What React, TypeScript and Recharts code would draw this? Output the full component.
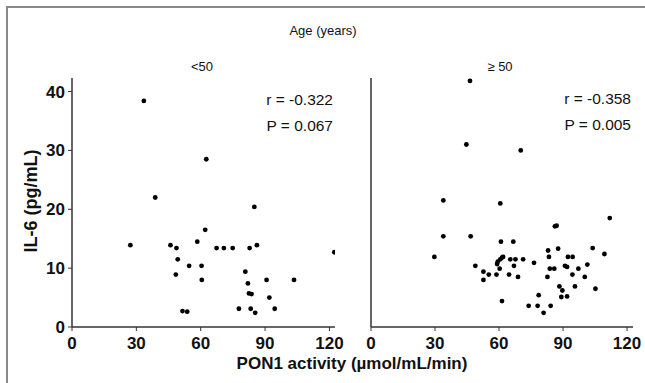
import React from 'react';
import { ScatterChart, Scatter, XAxis, YAxis } from 'recharts';

// PON1 activity (x) and IL-6 (y), age < 50
const youngPon1 = [33.5, 62.6, 38.8, 85.0, 62.1, 27.2, 45.9, 48.7, 58.4, 67.4, 70.8, 74.9, 82.8, 86.2, 122.3, 49.3, 54.6, 60.4, 48.4, 60.5, 80.8, 82.0, 90.7, 103.5, 82.5, 83.7, 92.0, 51.5, 53.7, 77.8, 83.3, 85.4, 94.5];
const youngIl6 = [38.4, 28.5, 22.0, 20.4, 16.5, 13.9, 13.9, 13.4, 14.5, 13.4, 13.4, 13.4, 13.4, 13.9, 12.7, 11.5, 10.4, 10.4, 8.9, 8.0, 9.4, 7.4, 8.0, 8.0, 5.7, 5.6, 5.0, 2.7, 2.6, 3.1, 3.1, 2.4, 3.1];

// age >= 50
const olderPon1 = [46.4, 44.7, 70.2, 33.9, 60.6, 111.9, 87.0, 86.2, 33.9, 46.7, 60.9, 66.7, 87.7, 103.9, 83.0, 29.7, 109.4, 61.4, 61.9, 65.3, 67.7, 71.3, 83.4, 92.3, 94.5, 59.4, 60.6, 59.1, 76.4, 48.9, 67.0, 90.9, 91.9, 101.4, 60.3, 83.8, 85.9, 97.2, 52.7, 55.2, 58.8, 64.7, 94.4, 68.9, 82.7, 100.2, 52.7, 88.3, 95.6, 89.7, 105.2, 89.2, 91.9, 61.4, 78.6, 73.9, 78.1, 84.2, 80.9];
const olderIl6 = [41.8, 31.0, 30.0, 21.5, 21.0, 18.5, 17.2, 17.1, 15.4, 15.4, 14.5, 14.5, 13.3, 13.4, 13.0, 11.9, 12.4, 11.8, 11.9, 11.5, 11.5, 11.5, 11.9, 11.9, 11.9, 11.1, 11.5, 10.7, 10.9, 10.4, 10.4, 10.4, 10.2, 10.6, 9.9, 9.9, 9.9, 9.9, 9.4, 8.9, 8.9, 8.9, 8.9, 8.5, 8.5, 8.5, 8.0, 6.9, 6.9, 6.2, 6.5, 5.1, 5.2, 4.4, 5.4, 3.6, 3.6, 3.6, 2.4];

const xTicks = [0, 30, 60, 90, 120];
const yTicks = [0, 10, 20, 30, 40];

const groupLabels = ['<50', '\u2265 50'];
const rValues = ['r = -0.322', 'r = -0.358'];
const pValues = ['P = 0.067', 'P = 0.005'];

const toPoints = (xs: number[], ys: number[]) => xs.map((x, i) => ({ x, y: ys[i] }));
const youngData = toPoints(youngPon1, youngIl6);
const olderData = toPoints(olderPon1, olderIl6);

const FONT = '"Liberation Sans", Arial, sans-serif';
const AXIS = '#333';

const XTick = (props: any) => (
  <text x={props.x} y={props.y + 12} textAnchor="middle" fontSize={17} fontWeight="bold" fontFamily={FONT} fill="#111">
    {props.payload.value}
  </text>
);
const YTick = (props: any) => (
  <text x={props.x} y={props.y + 6} textAnchor="end" fontSize={17} fontWeight="bold" fontFamily={FONT} fill="#111">
    {props.payload.value}
  </text>
);

const Dot = (props: any) => <circle cx={props.cx} cy={props.cy} r={2.4} fill="#000" />;

export default function App() {
  return (
    <div style={{ position: 'absolute', left: 0, top: 0, width: 645, height: 383, background: '#fff', overflow: 'hidden' }}>
      <div style={{ position: 'absolute', left: 6, top: 6, width: 700, height: 400, borderLeft: '2px solid #8a8a8a', borderTop: '2px solid #8a8a8a' }} />
      <div style={{ position: 'absolute', left: 0, top: 0 }}>
        <ScatterChart width={345} height={383} margin={{ top: 78, right: 10, bottom: 26, left: 0 }}>
          <XAxis type="number" dataKey="x" domain={[0, 122.6]} ticks={xTicks} allowDataOverflow interval={0} minTickGap={0}
            axisLine={{ stroke: AXIS, strokeWidth: 1.5 }} tickLine={{ stroke: AXIS, strokeWidth: 1 }}
            tickSize={4} tickMargin={6} height={30} tick={XTick} />
          <YAxis type="number" dataKey="y" domain={[0, 42.3]} ticks={yTicks} allowDataOverflow interval={0} minTickGap={0}
            axisLine={{ stroke: AXIS, strokeWidth: 1.5 }} tickLine={{ stroke: AXIS, strokeWidth: 1 }}
            tickSize={4} tickMargin={3} width={72} tick={YTick} />
          <Scatter data={youngData} shape={Dot} isAnimationActive={false} />
        </ScatterChart>
      </div>
      <div style={{ position: 'absolute', left: 340, top: 0 }}>
        <ScatterChart width={305} height={383} margin={{ top: 78, right: 12, bottom: 26, left: 0 }}>
          <XAxis type="number" dataKey="x" domain={[0, 122.8]} ticks={xTicks} allowDataOverflow interval={0} minTickGap={0}
            axisLine={{ stroke: AXIS, strokeWidth: 1.5 }} tickLine={{ stroke: AXIS, strokeWidth: 1 }}
            tickSize={4} tickMargin={6} height={30} tick={XTick} />
          <YAxis type="number" dataKey="y" domain={[0, 42.3]} ticks={yTicks} allowDataOverflow
            axisLine={{ stroke: AXIS, strokeWidth: 1.5 }} tickLine={false} tick={false} width={31} />
          <Scatter data={olderData} shape={Dot} isAnimationActive={false} />
        </ScatterChart>
      </div>
      <svg width={645} height={383} style={{ position: 'absolute', left: 0, top: 0, pointerEvents: 'none' }} fontFamily={FONT}>
        <text x={323} y={35} textAnchor="middle" fontSize={13} fill="#111">Age (years)</text>
        <text x={202} y={71} textAnchor="middle" fontSize={13} fill="#111">{groupLabels[0]}</text>
        <text x={500} y={71} textAnchor="middle" fontSize={13} fill="#111">{groupLabels[1]}</text>
        <text x={333} y={104.5} textAnchor="end" fontSize={15.5} fill="#111">{rValues[0]}</text>
        <text x={333} y={130.5} textAnchor="end" fontSize={15.5} fill="#111">{pValues[0]}</text>
        <text x={631} y={104} textAnchor="end" fontSize={15.5} fill="#111">{rValues[1]}</text>
        <text x={631} y={129.5} textAnchor="end" fontSize={15.5} fill="#111">{pValues[1]}</text>
        <text x={352} y={368.5} textAnchor="middle" fontSize={17} fontWeight="bold" fill="#111">PON1 activity (µmol/mL/min)</text>
        <text x={36.5} y={201} textAnchor="middle" fontSize={18} fontWeight="bold" fill="#111" transform="rotate(-90, 36.5, 201)">IL-6 (pg/mL)</text>
      </svg>
    </div>
  );
}
